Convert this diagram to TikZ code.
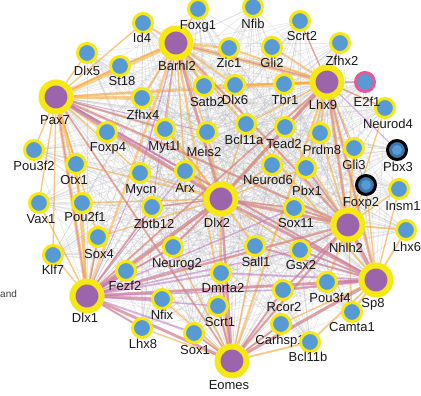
\documentclass[tikz,border=0pt]{standalone}
\usepackage{fontspec}
\setmainfont{Liberation Sans}
\pgfdeclarelayer{bg}
\pgfsetlayers{bg,main}
\definecolor{ringyellow}{RGB}{246,232,18}
\definecolor{geneblue}{RGB}{88,155,212}
\definecolor{darkblue}{RGB}{58,118,175}
\definecolor{hubpurple}{RGB}{155,100,172}
\definecolor{edgeorange}{RGB}{250,172,55}
\definecolor{edgepurple}{RGB}{192,115,198}
\definecolor{edgegray}{RGB}{185,185,190}
\definecolor{pinkring}{RGB}{232,88,150}
\definecolor{labcol}{RGB}{25,25,25}
\tikzset{
  hub/.style={circle, draw=ringyellow, line width=6pt, fill=hubpurple, minimum size=29pt, inner sep=0pt},
  gene/.style={circle, draw=ringyellow, line width=3pt, fill=geneblue, minimum size=19pt, inner sep=0pt},
  pinkgene/.style={gene, draw=pinkring},
  blackgene/.style={gene, draw=black, fill=darkblue,
    path picture={\fill[geneblue] (path picture bounding box.center) circle (5pt);}},
  lab/.style={font=\fontsize{13}{13}\selectfont, text=labcol, anchor=base, inner sep=0pt},
  ge/.style={draw=edgegray, line width=0.6pt, opacity=0.35},
  oe/.style={draw=edgeorange, opacity=0.55},
  pe/.style={draw=edgepurple, opacity=0.5}
}
\begin{document}
\begin{tikzpicture}[x=1pt,y=-1pt]
\useasboundingbox (0,0) rectangle (421,396);
% hubs
\foreach \n/\px/\py/\t/\lx/\ly in {
  barhl2/176/43/Barhl2/177/66, pax7/56/97/Pax7/55/120, lhx9/327/82/Lhx9/323/105,
  dlx2/221/199/Dlx2/217/223, nhlh2/348/225/Nhlh2/346/248, sp8/376/280/Sp8/373/303,
  dlx1/87/296/Dlx1/85/318, eomes/232/361/Eomes/229/385}
{ \node[hub] (\n) at (\px,\py) {}; \node[lab] (\n-l) at (\lx,\ly+4.7) {\t}; }
% genes
\foreach \n/\px/\py/\t/\lx/\ly in {
  id4/143/23/Id4/142/38, foxg1/198/9/Foxg1/198/25, nfib/253/7/Nfib/253/24,
  scrt2/300/21/Scrt2/302/36, zic1/229/48/Zic1/229/63, gli2/272/47/Gli2/272/63,
  zfhx2/340/43/Zfhx2/342/61, dlx5/87/53/Dlx5/87/71, st18/120/66/St18/122/81,
  satb2/204/86/Satb2/207/102, dlx6/235/85/Dlx6/235/100, tbr1/284/84/Tbr1/285/100,
  neurod4/385/108/Neurod4/388/124, zfhx4/142/98/Zfhx4/143/115, foxp4/107/132/Foxp4/108/147,
  myt1l/165/129/Myt1l/164/146, meis2/207/132/Meis2/204/152, bcl11a/246/124/Bcl11a/244/140,
  tead2/285/127/Tead2/284/144, prdm8/320/133/Prdm8/322/150, gli3/354/148/Gli3/354/165,
  pou3f2/34/150/Pou3f2/34/166, otx1/76/164/Otx1/74/180, mycn/140/173/Mycn/141/189,
  arx/185/171/Arx/185/188, neurod6/272/165/Neurod6/268/180, pbx1/306/168/Pbx1/307/191,
  insm1/399/189/Insm1/403/206, vax1/39/203/Vax1/41/219, pou2f1/82/203/Pou2f1/85/217,
  zbtb12/152/207/Zbtb12/154/224, sox11/294/208/Sox11/296/223, lhx6/406/230/Lhx6/407/247,
  sox4/98/237/Sox4/99/254, neurog2/173/247/Neurog2/177/263, sall1/255/246/Sall1/256/262,
  gsx2/300/250/Gsx2/301/265, klf7/53/255/Klf7/53/270, fezf2/126/271/Fezf2/125/286,
  dmrta2/221/273/Dmrta2/223/288, pou3f4/327/282/Pou3f4/330/298, rcor2/283/290/Rcor2/284/307,
  nfix/162/299/Nfix/162/315, scrt1/218/306/Scrt1/220/322, camta1/352/312/Camta1/352/327,
  lhx8/142/328/Lhx8/143/344, sox1/194/333/Sox1/195/350, carhsp1/281/324/Carhsp1/280/340,
  bcl11b/310/342/Bcl11b/308/357}
{ \node[gene] (\n) at (\px,\py) {}; \node[lab] (\n-l) at (\lx,\ly+4.7) {\t}; }
\node[pinkgene] (e2f1) at (365,82) {};
\node[lab] (e2f1-l) at (367,106.7) {E2f1};
\node[blackgene] (pbx3) at (397,150) {};
\node[lab] (pbx3-l) at (398,171.7) {Pbx3};
\node[blackgene] (foxp2) at (366,185) {};
\node[lab] (foxp2-l) at (361,206.7) {Foxp2};
\node[font=\fontsize{10}{10}\selectfont, text=labcol!85, anchor=base west, inner sep=0pt] (andtxt) at (0,297) {and};
\begin{pgfonlayer}{bg}
% gray edges
\foreach \h in {barhl2,pax7,lhx9,dlx2,nhlh2,sp8,dlx1,eomes}
  \foreach \s in {id4,foxg1,nfib,scrt2,zic1,gli2,zfhx2,e2f1,dlx5,st18,satb2,dlx6,tbr1,neurod4,zfhx4,foxp4,myt1l,meis2,bcl11a,tead2,prdm8,gli3,pbx3,pou3f2,otx1,mycn,arx,neurod6,pbx1,foxp2,insm1,vax1,pou2f1,zbtb12,sox11,lhx6,sox4,neurog2,sall1,gsx2,klf7,fezf2,dmrta2,pou3f4,rcor2,nfix,scrt1,camta1,lhx8,sox1,carhsp1,bcl11b}
    \draw[ge] (\h) -- (\s);
\foreach \a in {pou3f2,vax1,klf7,lhx8,sox1,bcl11b,camta1,lhx6,insm1,pbx3,neurod4,e2f1,zfhx2,scrt2,nfib,foxg1,id4,dlx5}
  \foreach \b in {meis2,arx,mycn,zbtb12,neurog2,sall1,sox11,neurod6,bcl11a,tead2,dmrta2,gsx2,myt1l,zfhx4}
    \draw[ge] (\a) -- (\b);
% orange edges
\foreach \a/\b/\w in {
  pax7/barhl2/4.5, pax7/zfhx4/3.5, pax7/lhx9/2.5, pax7/dlx1/3.5, pax7/dlx2/2.5, pax7/foxp4/2, pax7/otx1/2, pax7/pou3f2/1.5, pax7/vax1/1.5, pax7/st18/2, pax7/dlx5/1.5, pax7/id4/1.5, pax7/myt1l/2, pax7/mycn/1.5, pax7/pou2f1/2.5, pax7/sox4/1.5, pax7/nhlh2/2.5, pax7/sp8/2, pax7/eomes/2, pax7/klf7/1.5,
  barhl2/lhx9/4.5, barhl2/dlx2/3, barhl2/zic1/2.5, barhl2/foxg1/2, barhl2/id4/2, barhl2/st18/1.5, barhl2/satb2/2.5, barhl2/dlx6/2, barhl2/zfhx4/2, barhl2/myt1l/1.5, barhl2/meis2/1.5, barhl2/nhlh2/2.5, barhl2/sp8/2, barhl2/dlx1/2.5, barhl2/eomes/2, barhl2/arx/1.5,
  lhx9/dlx2/3.5, lhx9/nhlh2/3.5, lhx9/sp8/3.5, lhx9/gli2/2, lhx9/zic1/2, lhx9/tbr1/2.5, lhx9/scrt2/1.5, lhx9/zfhx2/1.5, lhx9/dlx6/2, lhx9/neurod4/1.5, lhx9/tead2/2, lhx9/prdm8/2, lhx9/gli3/1.5, lhx9/bcl11a/1.5, lhx9/eomes/2.5, lhx9/dlx1/2, lhx9/satb2/2, lhx9/pbx1/1.5,
  dlx2/nhlh2/3.5, dlx2/sp8/2.5, dlx2/eomes/2.5, dlx2/dlx1/3, dlx2/meis2/2, dlx2/arx/2, dlx2/mycn/1.5, dlx2/zbtb12/1.5, dlx2/neurog2/2, dlx2/sall1/2, dlx2/dmrta2/2, dlx2/sox11/2, dlx2/gsx2/1.5, dlx2/neurod6/1.5, dlx2/bcl11a/1.5, dlx2/tead2/1.5, dlx2/pbx1/1.5, dlx2/sox4/1.5, dlx2/fezf2/1.5, dlx2/myt1l/1.5, dlx2/zfhx4/2, dlx2/foxp4/1.5, dlx2/otx1/1.5, dlx2/pou2f1/1.5,
  nhlh2/sp8/3.5, nhlh2/eomes/2.5, nhlh2/dlx1/2.5, nhlh2/insm1/1.5, nhlh2/lhx6/2, nhlh2/foxp2/1.5, nhlh2/gli3/2, nhlh2/pbx1/2, nhlh2/sox11/2, nhlh2/gsx2/1.5, nhlh2/pou3f4/2, nhlh2/rcor2/1.5, nhlh2/camta1/1.5, nhlh2/prdm8/2, nhlh2/tead2/1.5, nhlh2/neurod4/1.5,
  sp8/eomes/3, sp8/dlx1/2.5, sp8/lhx6/2, sp8/camta1/2, sp8/pou3f4/2, sp8/rcor2/1.5, sp8/gsx2/1.5, sp8/bcl11b/2, sp8/carhsp1/1.5, sp8/sall1/1.5, sp8/insm1/1.5, sp8/foxp2/1.5,
  eomes/dlx1/2.5, eomes/sox1/2, eomes/scrt1/2, eomes/carhsp1/2, eomes/rcor2/1.5, eomes/dmrta2/2, eomes/nfix/1.5, eomes/lhx8/1.5, eomes/sall1/1.5, eomes/neurog2/1.5, eomes/bcl11b/2,
  dlx1/fezf2/2, dlx1/nfix/2, dlx1/lhx8/1.5, dlx1/sox4/2, dlx1/klf7/1.5, dlx1/zbtb12/1.5, dlx1/neurog2/1.5, dlx1/pou2f1/2, dlx1/vax1/1.5, dlx1/otx1/2}
  \draw[oe, line width=\w pt] (\a) -- (\b);
% purple edges
\foreach \a/\b/\w in {
  dlx1/dlx2/3.5, dlx1/fezf2/3, dlx1/nfix/3, dlx1/eomes/3, dlx1/sp8/3, dlx1/nhlh2/2, dlx1/lhx8/2, dlx1/sox1/2, dlx1/neurog2/2, dlx1/zbtb12/1.5, dlx1/sox4/1.5, dlx1/sox11/1.5, dlx1/dmrta2/2, dlx1/pax7/1.5, dlx1/lhx9/1.5, dlx1/scrt1/1.5, dlx1/mycn/1, dlx1/arx/1, dlx1/sall1/1.5, dlx1/gsx2/1.5, dlx1/rcor2/1.5,
  pax7/dlx2/3.5, pax7/nhlh2/2, pax7/sp8/2, pax7/eomes/1.5, pax7/myt1l/1.5, pax7/arx/1.5, pax7/meis2/1,
  barhl2/dlx2/2.5, barhl2/mycn/1.5, barhl2/zbtb12/1, barhl2/lhx9/1.5, barhl2/nhlh2/1.5,
  lhx9/dlx2/3, lhx9/nhlh2/2, lhx9/e2f1/1.5, lhx9/zfhx2/1, lhx9/scrt2/1, lhx9/sp8/1.5, lhx9/neurod4/1, lhx9/foxp2/1, lhx9/pbx3/1,
  dlx2/nhlh2/2.5, dlx2/sp8/3, dlx2/eomes/2.5, dlx2/neurog2/2, dlx2/zbtb12/1.5, dlx2/sox11/1.5,
  nhlh2/sp8/3.5, nhlh2/eomes/2, nhlh2/gsx2/2, nhlh2/rcor2/1.5, nhlh2/pbx1/1.5, nhlh2/sox11/1.5,
  sp8/eomes/3, sp8/rcor2/2.5, sp8/gsx2/2, sp8/sall1/2, sp8/dmrta2/2, sp8/pou3f4/1.5,
  eomes/rcor2/2, eomes/carhsp1/1.5, eomes/scrt1/2, eomes/sox1/1.5, eomes/dmrta2/2}
  \draw[pe, line width=\w pt] (\a) -- (\b);
\end{pgfonlayer}
\end{tikzpicture}
\end{document}
